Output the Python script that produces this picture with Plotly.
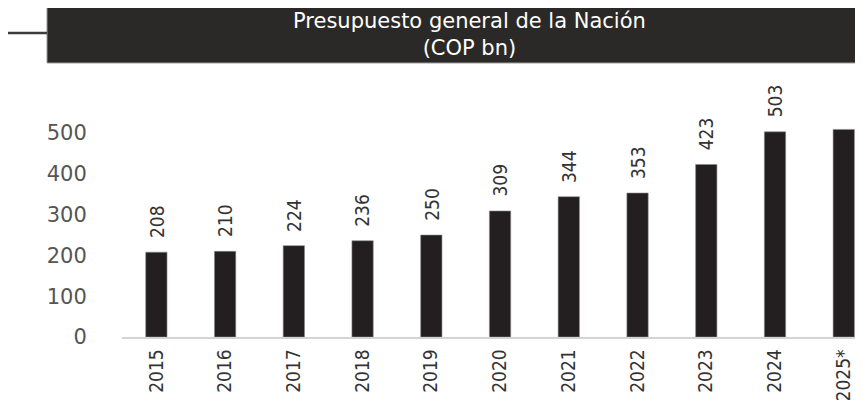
import plotly.graph_objects as go

years = ["2015", "2016", "2017", "2018", "2019", "2020", "2021", "2022", "2023", "2024", "2025*"]
values = [208, 210, 224, 236, 250, 309, 344, 353, 423, 503, 509]
labels = ["208", "210", "224", "236", "250", "309", "344", "353", "423", "503", ""]
y_ticks = [0, 100, 200, 300, 400, 500]

title_text = "Presupuesto general de la Nación<br>(COP bn)"

# the page body adds an 8 px offset; reference pixel p -> figure pixel p - 8
OFF = 8
W, H = 863, 400
ML = 122 - OFF
MT = 70 - OFF
PLOT_RIGHT = 863 - OFF
ZERO_Y = 336.7 - OFF
MR = W - PLOT_RIGHT
MB = H - ZERO_Y
PW, PH = W - ML - MR, H - MT - MB


def px_x(p):
    return (p - OFF - ML) / PW


def px_y(p):
    return (H - MB - (p - OFF)) / PH


BAR = "#231f20"
BOX = "#2b2927"
NARROW = "DejaVu Sans Condensed, Liberation Sans Narrow, sans-serif"

fig = go.Figure()
fig.add_trace(go.Bar(
    x=years, y=values,
    marker=dict(color=BAR, line=dict(color="#8a8a8a", width=0.6)),
    hoverinfo="x+y",
))

annotations = []
for i, (v, lab) in enumerate(zip(values, labels)):
    if lab:
        annotations.append(dict(
            x=i, y=v, xref="x", yref="y", text=lab, showarrow=False,
            textangle=-90, xanchor="center", yanchor="bottom", yshift=12,
            font=dict(family=NARROW, size=19, color="#333333"),
        ))

annotations.append(dict(
    x=px_x(469), y=px_y(35), xref="paper", yref="paper",
    text=title_text, showarrow=False, xanchor="center", yanchor="middle",
    font=dict(family="DejaVu Sans, sans-serif", size=21, color="#ffffff"),
    align="center",
))

shapes = [
    dict(type="rect", xref="paper", yref="paper",
         x0=px_x(47), x1=px_x(875), y0=px_y(63), y1=px_y(-10),
         fillcolor=BOX, line=dict(color="#9a9a9a", width=1), layer="above"),
    dict(type="line", xref="paper", yref="paper",
         x0=px_x(8), x1=px_x(47), y0=px_y(33), y1=px_y(33),
         line=dict(color="#3c3c3c", width=2.5)),
]

y_top = (ZERO_Y - MT) / ((336.7 - 133) / 500)

fig.update_layout(
    template="none",
    width=W, height=H,
    margin=dict(l=ML, r=MR, t=MT, b=MB, pad=0, autoexpand=False),
    paper_bgcolor="#ffffff", plot_bgcolor="#ffffff",
    showlegend=False,
    bargap=0.69,
    annotations=annotations,
    shapes=shapes,
    xaxis=dict(
        type="category",
        automargin=False,
        range=[-0.5, 10.28],
        showline=True, linecolor="#d4d4d4", linewidth=1.5,
        showgrid=False, zeroline=False,
        ticks="outside", ticklen=3, tickcolor="rgba(0,0,0,0)",
        tickangle=-90,
        tickfont=dict(family=NARROW, size=19, color="#333333"),
    ),
    yaxis=dict(
        automargin=False,
        range=[0, y_top],
        tickvals=y_ticks,
        showline=False, showgrid=False, zeroline=False,
        ticks="outside", ticklen=30, tickcolor="rgba(0,0,0,0)",
        tickfont=dict(family="DejaVu Sans, sans-serif", size=21, color="#555555"),
    ),
)

fig.write_html("out.html")
